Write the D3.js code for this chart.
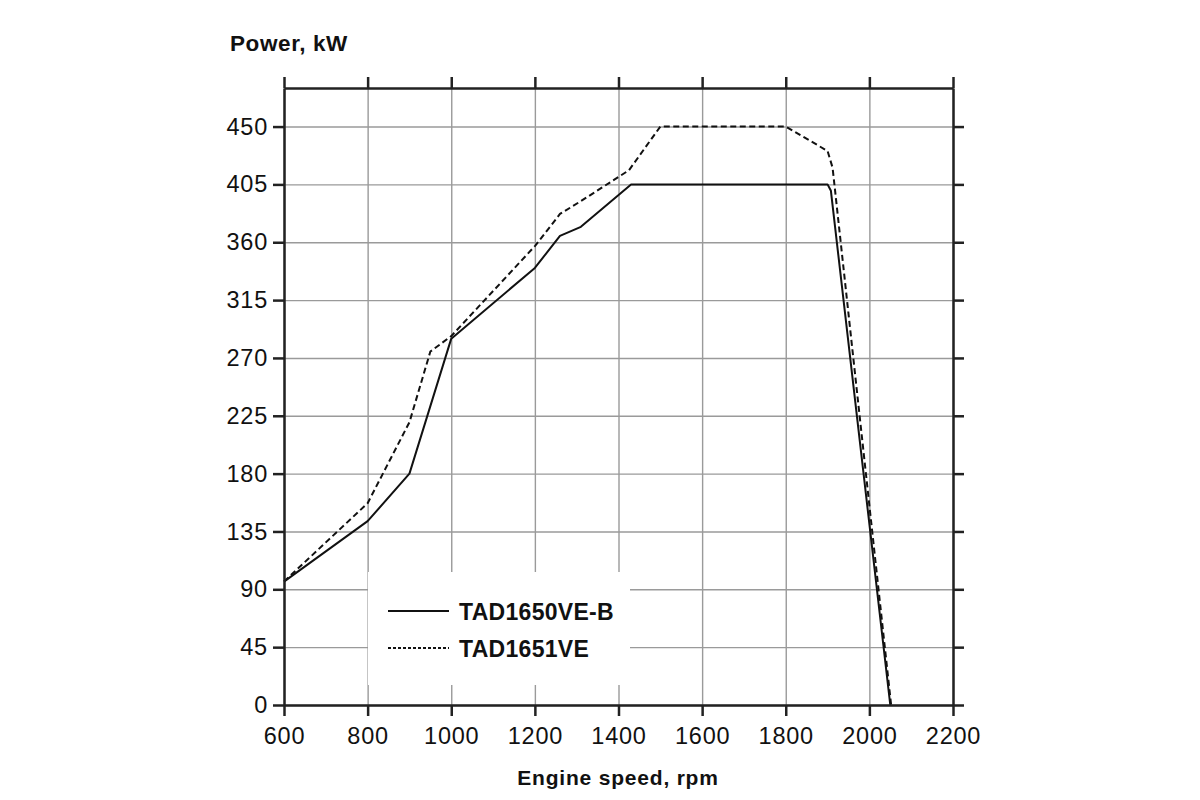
<!DOCTYPE html>
<html>
<head>
<meta charset="utf-8">
<script src="https://cdn.jsdelivr.net/npm/d3@7"></script>
<style>
  body { margin: 0; background: #fff; }
  text { font-family: "Liberation Sans", Arial, Helvetica, sans-serif; fill: #111; }
</style>
</head>
<body>
<svg width="1200" height="800"></svg>
<script>
// engine speed, rpm / power, kW
var speedB = [600, 800, 900, 1000, 1200, 1260, 1310, 1430, 1900, 1908, 2050]
var powerB = [96, 143, 180, 285, 340, 365, 372, 405, 405, 400, 0]

var speedVE = [600, 800, 900, 950, 1000, 1200, 1260, 1310, 1425, 1500, 1800, 1900, 1912, 2052]
var powerVE = [96, 157, 220, 275, 287, 357, 382, 392, 416, 450, 450, 431, 418, 0]

var seriesNames = ['TAD1650VE-B', 'TAD1651VE']
var xTicks = [600, 800, 1000, 1200, 1400, 1600, 1800, 2000, 2200]
var yTicks = [0, 45, 90, 135, 180, 225, 270, 315, 360, 405, 450]

var plotL = 284, plotR = 953, plotT = 88, plotB = 705

var svg = d3.select('svg')

var x = d3.scaleLinear().domain([600, 2200]).range([plotL, plotR])
var y = d3.scaleLinear().domain([0, 480]).range([plotB, plotT])

// grid
var grid = svg.append('g').attr('class', 'grid')
grid.append('g')
    .attr('transform', 'translate(0,' + plotB + ')')
    .call(d3.axisBottom(x).tickValues(xTicks).tickSize(-(plotB - plotT)).tickFormat(''))
grid.append('g')
    .attr('transform', 'translate(' + plotL + ',0)')
    .call(d3.axisLeft(y).tickValues(yTicks).tickSize(-(plotR - plotL)).tickFormat(''))
grid.selectAll('.domain').remove()
grid.selectAll('line').attr('stroke', '#9a9a9a').attr('stroke-width', 1.4)

// legend box hides grid behind it
svg.append('rect')
    .attr('x', 368).attr('y', 572).attr('width', 262).attr('height', 113)
    .attr('fill', '#fff')

var line = d3.line()
    .x(function (d) { return x(d[0]) })
    .y(function (d) { return y(d[1]) })

svg.append('path')
    .datum(d3.zip(speedVE, powerVE))
    .attr('d', line)
    .attr('fill', 'none')
    .attr('stroke', '#111')
    .attr('stroke-width', 2)
    .attr('stroke-dasharray', '6,3.5')
    .attr('stroke-linejoin', 'round')

svg.append('path')
    .datum(d3.zip(speedB, powerB))
    .attr('d', line)
    .attr('fill', 'none')
    .attr('stroke', '#111')
    .attr('stroke-width', 2)
    .attr('stroke-linejoin', 'round')

// axes on all four sides
function styleAxis(g) {
    g.select('.domain').attr('stroke', '#222').attr('stroke-width', 2.5)
    g.selectAll('.tick line').attr('stroke', '#222').attr('stroke-width', 2.5)
    g.selectAll('.tick text')
        .style('font-size', '23.5px')
        .style('letter-spacing', '0.8px')
        .style('font-family', '"Liberation Sans", Arial, sans-serif')
        .attr('fill', '#222')
}

svg.append('g')
    .attr('transform', 'translate(0,' + plotB + ')')
    .call(d3.axisBottom(x).tickValues(xTicks).tickSize(11).tickSizeOuter(0).tickPadding(11).tickFormat(d3.format('d')))
    .call(styleAxis)

svg.append('g')
    .attr('transform', 'translate(0,' + plotT + ')')
    .call(d3.axisTop(x).tickValues(xTicks).tickSize(11).tickSizeOuter(0).tickFormat(''))
    .call(styleAxis)

svg.append('g')
    .attr('transform', 'translate(' + plotL + ',0)')
    .call(d3.axisLeft(y).tickValues(yTicks).tickSize(11).tickSizeOuter(0).tickPadding(5))
    .call(styleAxis)

svg.append('g')
    .attr('transform', 'translate(' + plotR + ',0)')
    .call(d3.axisRight(y).tickValues(yTicks).tickSize(11).tickSizeOuter(0).tickFormat(''))
    .call(styleAxis)

// titles
svg.append('text')
    .attr('x', 230).attr('y', 51)
    .style('font-size', '22.5px').style('font-weight', 'bold').style('letter-spacing', '0.6px')
    .text('Power, kW')

svg.append('text')
    .attr('x', 618).attr('y', 785)
    .attr('text-anchor', 'middle')
    .style('font-size', '21px').style('font-weight', 'bold').style('letter-spacing', '0.8px')
    .text('Engine speed, rpm')

// legend
var legend = svg.append('g')
var dashes = [null, '3,2']
seriesNames.forEach(function (name, i) {
    var ly = 611 + i * 37
    legend.append('line')
        .attr('x1', 388).attr('x2', 449).attr('y1', ly).attr('y2', ly)
        .attr('stroke', '#111').attr('stroke-width', 2)
        .attr('stroke-dasharray', dashes[i])
    legend.append('text')
        .attr('x', 459).attr('y', ly + 8.5)
        .style('font-size', '23px').style('font-weight', 'bold').style('letter-spacing', '0.3px')
        .text(name)
})
</script>
</body>
</html>
